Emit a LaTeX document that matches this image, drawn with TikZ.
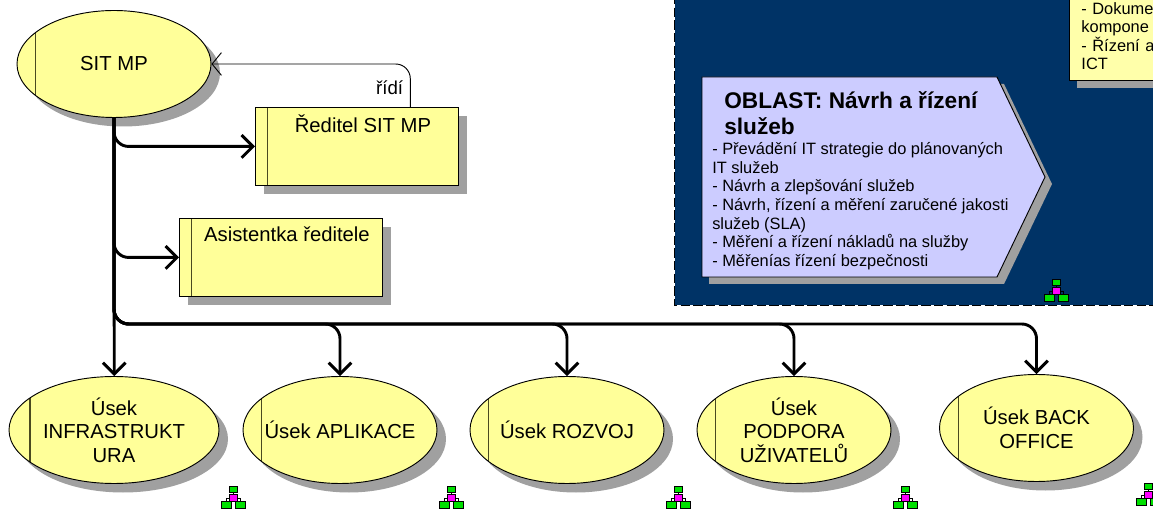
\documentclass[tikz,border=0pt]{standalone}
\usepackage{fontspec}
\setmainfont{Liberation Sans}
\usetikzlibrary{shapes,arrows,calc,arrows.meta,shadows}
\definecolor{unityellow}{HTML}{FFFF99}
\definecolor{notecol}{HTML}{FFFFAA}
\definecolor{panelcol}{HTML}{003366}
\definecolor{blockcol}{HTML}{CCCCFF}
\definecolor{shadowcol}{HTML}{A0A0A0}
\definecolor{chordcol}{HTML}{4A4A20}
\definecolor{orggreen}{HTML}{00E000}
\definecolor{orgpink}{HTML}{FF00FF}
\tikzset{
  unitfont/.style={font=\fontsize{15.2}{17.6}\selectfont},
  unitshadow/.style={drop shadow={shadow xshift=6.75pt,shadow yshift=-6.75pt,fill=shadowcol,opacity=1}},
  ellnode/.style={ellipse,draw=black,line width=0.7pt,fill=unityellow,unitshadow,unitfont,align=center,
    minimum width=145.5pt,minimum height=80.25pt,inner xsep=-30pt,inner ysep=-12pt,
    path picture={\draw[chordcol,line width=0.8pt] ([xshift=14pt]path picture bounding box.north west) -- ([xshift=14pt]path picture bounding box.south west);}},
  widenode/.style={ellnode,minimum width=157.5pt,path picture={\draw[chordcol,line width=0.8pt] ([xshift=15.75pt]path picture bounding box.north west) -- ([xshift=15.75pt]path picture bounding box.south west);}},
  boxnode/.style={rectangle,draw=black,line width=0.7pt,fill=unityellow,unitshadow,minimum width=152.25pt,minimum height=58.5pt,anchor=north west,
    path picture={\draw[chordcol,line width=0.8pt] ([xshift=9pt]path picture bounding box.north west) -- ([xshift=9pt]path picture bounding box.south west);}},
  boxlabel/.style={unitfont,anchor=north,xshift=4.5pt,yshift=-4pt,inner sep=2pt},
  link/.style={line width=2.2pt,rounded corners=11pt,-{Straight Barb[length=8.5pt,width=17pt,line width=2.2pt]}},
  ridilink/.style={line width=0.7pt,rounded corners=11pt,-{Straight Barb[length=7pt,width=17pt,line width=0.7pt]}},
  bodytext/.style={anchor=north west,align=left,inner sep=0pt,font=\fontsize{12.3}{14}\selectfont},
  orgicon/.pic={
    \draw[line width=0.6pt] (0,6) -- (0,8) (0,12) -- (-7,12) -- (-7,15) (0,12) -- (7,12) -- (7,15);
    \draw[fill=orggreen,line width=0.5pt] (-4,0) rectangle (4,6);
    \draw[fill=orgpink,line width=0.5pt] (-4,8) rectangle (4,15);
    \draw[fill=orggreen,line width=0.5pt] (-12,15) rectangle (-2,22);
    \draw[fill=orggreen,line width=0.5pt] (2,15) rectangle (12,22);
  }
}
\begin{document}
\begin{tikzpicture}[x=0.75pt,y=-0.75pt]
  \useasboundingbox (0,0) rectangle (1153,509);
  \clip (0,0) rectangle (1153,509);
  \fill[panelcol] (675,-5) rectangle (1170,305);
  \draw[black,line width=0.75pt,dash pattern=on 7pt off 2.5pt] (674.5,-5) -- (674.5,305.5) -- (1170,305.5);
  \draw (1069,81) node[rectangle,draw=black,line width=0.7pt,fill=notecol,anchor=south west,
    drop shadow={shadow xshift=6pt,shadow yshift=-5.25pt,fill=shadowcol,opacity=1},
    text width=110pt,inner xsep=9pt,inner ysep=8pt,align=left,font=\fontsize{12.3}{13.8}\selectfont] (note)
    {\mbox{}\\- Dokume\\kompone\\- Řízení a\\ICT};
  \draw[line width=0.7pt,fill=blockcol,drop shadow={shadow xshift=5.25pt,shadow yshift=-5.25pt,fill=shadowcol,opacity=1}]
    (702,77) -- (997,77) -- (1045,177) -- (997,277) -- (702,277) -- cycle;
  \draw (724,91) node[bodytext,font=\fontsize{17}{20}\selectfont\bfseries] (blocktitle) {OBLAST: Návrh a řízení\\služeb};
  \draw (712,142) node[bodytext] (blockbody) {- Převádění IT strategie do plánovaných\\IT služeb\\- Návrh a zlepšování služeb\\- Návrh, řízení a měření zaručené jakosti\\služeb (SLA)\\- Měření a řízení nákladů na služby\\- Měřenías řízení bezpečnosti};

  \draw (114,64) node[ellnode] (sitmp) {SIT MP};
  \draw (255,107) node[boxnode,label={[boxlabel]north:Ředitel SIT MP}] (reditel) {};
  \draw (179,218) node[boxnode,label={[boxlabel]north:Asistentka ředitele}] (asistentka) {};
  \draw (114,430) node[widenode] (infra) {Úsek\\INFRASTRUKT\\URA};
  \draw (340,430) node[ellnode] (aplikace) {Úsek APLIKACE};
  \draw (567,430) node[ellnode] (rozvoj) {Úsek ROZVOJ};
  \draw (794,430) node[ellnode] (podpora) {Úsek\\PODPORA\\UŽIVATELŮ};
  \draw (1036.5,428) node[ellnode] (backoffice) {Úsek BACK\\OFFICE};
  \coordinate (bus) at (0,324);

  \draw[ridilink] ([xshift=40pt]reditel.north) |- node[pos=.22,left,inner sep=5pt,font=\fontsize{14}{16}\selectfont] (ridi) {řídí} (sitmp.east);
  \draw[link] (sitmp.south) |- (reditel.west);
  \draw[link] (sitmp.south) |- (asistentka.west);
  \foreach \target in {aplikace,rozvoj,podpora,backoffice}
    \draw[link] (sitmp.south) -- (sitmp.south |- bus) -- (\target.north |- bus) -- (\target.north);
  \draw[link] (sitmp.south) -- ([xshift=0.2pt]infra.north);

  \foreach \xpos/\ypos in {233/486,451/486,678/486,905/486,1148/483,1056/279}
    \pic at (\xpos,\ypos) {orgicon};
\end{tikzpicture}
\end{document}
